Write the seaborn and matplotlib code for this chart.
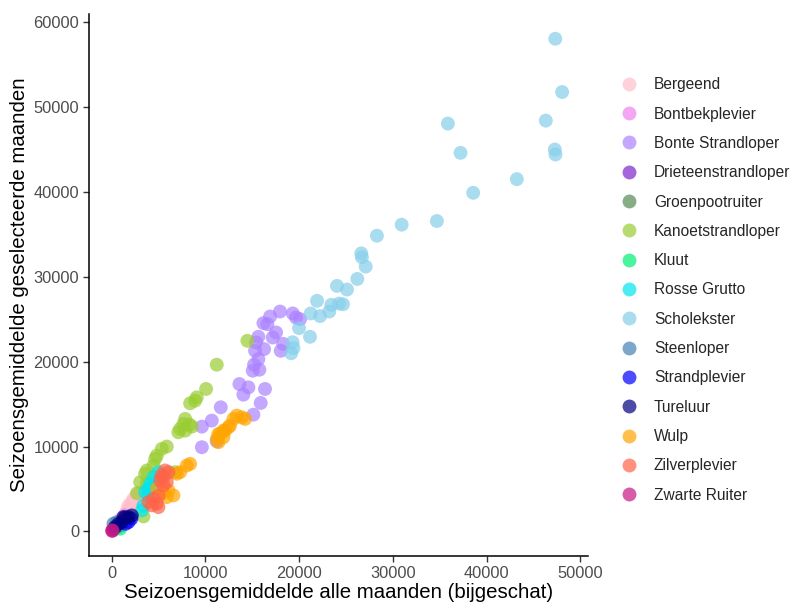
import matplotlib
matplotlib.use("Agg")
import matplotlib.pyplot as plt
import seaborn as sns
import pandas as pd

species = ["Bergeend", "Bontbekplevier", "Bonte Strandloper", "Drieteenstrandloper",
           "Groenpootruiter", "Kanoetstrandloper", "Kluut", "Rosse Grutto", "Scholekster",
           "Steenloper", "Strandplevier", "Tureluur", "Wulp", "Zilverplevier", "Zwarte Ruiter"]
colors = ["#FFC0CB", "#EE82EE", "#AB82FF", "#7D26CD", "#548B54", "#9ACD32", "#00EE76",
          "#00E5EE", "#87CEEB", "#4682B4", "#0000FF", "#000080", "#FFA500", "#FF6347", "#C71585"]

bergeend_x = [3040, 2690, 2320, 2150, 1790, 1620, 2860, 2500, 1970, 2000, 2400, 2700, 3100,
              1500, 2200]
bergeend_y = [4630, 4240, 3850, 3450, 3060, 2470, 4430, 3650, 2670, 3000, 3300, 3900, 4400,
              2000, 2900]
bontbekplevier_x = [1000, 1400, 1200]
bontbekplevier_y = [1400, 1900, 1700]
bonte_x = [17960, 16900, 19320, 19670, 20100, 16190, 16610, 17540, 17180, 18040, 15650, 15410,
           16260, 15300, 15650, 15190, 15050, 15760, 13630, 14590, 14050, 16360, 15900, 11640,
           15120, 10680, 9620, 9620, 11210, 18300]
bonte_y = [25920, 25330, 25690, 25210, 25020, 24550, 24430, 23450, 22860, 21290, 22940, 22270,
           21490, 21290, 20310, 19650, 18940, 19060, 17370, 16980, 16120, 16790, 15140, 14630,
           13760, 13060, 12350, 9920, 10620, 22100]
drieteen_x = [150, 300]
drieteen_y = [200, 350]
groenpoot_x = [400, 600]
groenpoot_y = [500, 700]
kanoet_x = [14480, 11210, 10070, 9080, 8900, 8370, 7840, 7660, 8550, 7300, 7840, 8300, 7110,
            5880, 5350, 4820, 4640, 4460, 3750, 3570, 3040, 3750, 6770, 3390, 2700]
kanoet_y = [22470, 19650, 16790, 15800, 15410, 15100, 13260, 12670, 12350, 12080, 11880, 12600,
            11680, 10000, 9730, 8940, 8550, 7760, 7180, 6790, 5800, 5680, 6980, 1760, 4500]
kluut_x = [910, 500]
kluut_y = [320, 400]
rosse_x = [4990, 4460, 4100, 3920, 3570, 4820, 4280, 3390, 3220, 3920]
rosse_y = [6980, 6390, 5610, 5020, 4630, 6000, 5210, 3060, 2470, 4240]
scholekster_x = [47330, 48060, 46320, 35870, 37220, 47280, 47350, 43230, 38570, 34700, 30940,
                 28300, 26630, 26700, 27100, 26210, 24040, 25110, 21910, 23430, 24250, 24680,
                 23220, 21230, 22230, 19990, 21160, 19300, 19400, 19150]
scholekster_y = [58080, 51800, 48430, 48080, 44630, 45020, 44430, 41530, 39920, 36590, 36160,
                 34860, 32780, 32310, 31220, 29760, 28940, 28510, 27180, 26710, 26860, 26780,
                 25920, 25690, 25380, 23960, 22940, 22300, 21600, 21000]
steenloper_x = [190, 550, 910]
steenloper_y = [900, 1090, 710]
strandplevier_x = [1800, 2100, 1500]
strandplevier_y = [1100, 1500, 900]
tureluur_x = [370, 730, 1090, 1440, 1790, 2150, 1260]
tureluur_y = [510, 900, 1090, 1650, 1680, 1880, 1680]
wulp_x = [13350, 13880, 14230, 12990, 12630, 12450, 11920, 12100, 11390, 11570, 11210, 11920,
          11390, 8370, 8010, 7300, 6950, 6060, 6590, 5880, 4820, 5500]
wulp_y = [13650, 13450, 13260, 13260, 12470, 12270, 11880, 11880, 11490, 11490, 10910, 11100,
          10510, 7960, 7760, 6980, 6790, 4820, 4240, 4040, 5020, 4500]
zilver_x = [5700, 6060, 5520, 5170, 5880, 5520, 4460, 3920, 4820, 4990, 4280, 5300, 5000]
zilver_y = [7180, 6980, 6390, 6000, 5800, 5410, 3850, 3450, 3260, 2860, 3060, 6600, 4200]
zwarte_x = [80, 50]
zwarte_y = [100, 60]

xs = [bergeend_x, bontbekplevier_x, bonte_x, drieteen_x, groenpoot_x, kanoet_x, kluut_x,
      rosse_x, scholekster_x, steenloper_x, strandplevier_x, tureluur_x, wulp_x, zilver_x, zwarte_x]
ys = [bergeend_y, bontbekplevier_y, bonte_y, drieteen_y, groenpoot_y, kanoet_y, kluut_y,
      rosse_y, scholekster_y, steenloper_y, strandplevier_y, tureluur_y, wulp_y, zilver_y, zwarte_y]

rows = []
for sp, xv, yv in zip(species, xs, ys):
    for a, b in zip(xv, yv):
        rows.append({"soort": sp, "x": a, "y": b})
df = pd.DataFrame(rows)

sns.set_theme(style="ticks")
plt.rcParams["font.family"] = ["Liberation Sans", "DejaVu Sans"]

fig = plt.figure(figsize=(7.95, 6.06), dpi=100)
ax = fig.add_axes([89 / 795, 1 - 556 / 606, (588 - 89) / 795, (556 - 14) / 606])

sns.scatterplot(data=df, x="x", y="y", hue="soort", hue_order=species,
                palette=dict(zip(species, colors)), s=100, alpha=0.7, linewidth=0, ax=ax)

ax.set_xlim(-2420, 50820)
ax.set_ylim(-2905, 61000)
ax.set_xticks([0, 10000, 20000, 30000, 40000, 50000])
ax.set_yticks([0, 10000, 20000, 30000, 40000, 50000, 60000])
ax.set_xlabel("Seizoensgemiddelde alle maanden (bijgeschat)", fontsize=14.7, color="black", labelpad=2)
ax.set_ylabel("Seizoensgemiddelde geselecteerde maanden", fontsize=14.7, color="black", labelpad=3)
ax.tick_params(axis="both", labelsize=11.8, labelcolor="#4D4D4D", color="#333333",
               length=4, width=1, direction="out", pad=3)
for side in ["top", "right"]:
    ax.spines[side].set_visible(False)
for side in ["left", "bottom"]:
    ax.spines[side].set_color("black")
    ax.spines[side].set_linewidth(1.1)

sns.move_legend(ax, loc="center left", bbox_to_anchor=(0.7535, 0.5215),
                bbox_transform=fig.transFigure, frameon=False, title=None,
                fontsize=11.2, labelspacing=0.92, handletextpad=0.62, markerscale=1.0)

fig.savefig("out.png", dpi=100)
